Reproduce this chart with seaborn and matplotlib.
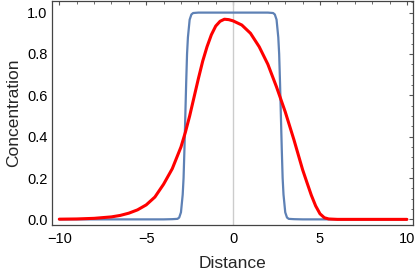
import numpy as np
import pandas as pd
import matplotlib
matplotlib.use("Agg")
import matplotlib.pyplot as plt
from matplotlib.ticker import MultipleLocator
import seaborn as sns

# values
blue_x = [-10, -4, -3.5, -3.2, -3.1, -3.0, -2.9, -2.85, -2.8, -2.75, -2.7, -2.65,
          -2.6, -2.5, -2.4, -2.3, -2.0,
          2.0, 2.3, 2.4, 2.5, 2.6, 2.65, 2.7, 2.75, 2.8, 2.85, 2.9, 3.0, 3.1,
          3.2, 3.5, 4, 10]
blue_y = [0.0, 0.0, 0.001, 0.0025, 0.009, 0.034, 0.12, 0.2, 0.34, 0.5, 0.66, 0.8,
          0.88, 0.966, 0.991, 0.998, 1.0,
          1.0, 0.998, 0.991, 0.966, 0.88, 0.8, 0.66, 0.5, 0.34, 0.2, 0.12, 0.034, 0.009,
          0.0025, 0.001, 0.0, 0.0]

red_x = [-10, -9, -8, -7, -6.5, -6, -5.5, -5, -4.5, -4, -3.5, -3, -2.75, -2.5,
         -2.25, -2, -1.75, -1.5, -1.25, -1.0, -0.75, -0.5, -0.25, 0, 0.5, 1.0,
         1.5, 2.0, 2.5, 3.0, 3.5, 4.0, 4.25, 4.5, 4.75, 5.0, 5.25, 5.5, 6, 10]
red_y = [0.001, 0.002, 0.005, 0.012, 0.019, 0.03, 0.046, 0.07, 0.108, 0.17, 0.245,
         0.35, 0.42, 0.5, 0.59, 0.68, 0.765, 0.835, 0.893, 0.935, 0.958, 0.968,
         0.966, 0.96, 0.94, 0.9, 0.835, 0.75, 0.64, 0.52, 0.385, 0.24, 0.178,
         0.117, 0.065, 0.027, 0.008, 0.002, 0.0, 0.0]

blue_df = pd.DataFrame({"Distance": blue_x, "Concentration": blue_y})
red_df = pd.DataFrame({"Distance": red_x, "Concentration": red_y})

sns.set_theme(style="white")
plt.rcParams["font.family"] = ["Liberation Sans", "DejaVu Sans"]

fig = plt.figure(figsize=(4.18, 2.74), dpi=100)
ax = fig.add_axes([0.124, 0.179, 0.864, 0.818])

ax.axvline(0, color="#cccccc", lw=1.0, zorder=1)

sns.lineplot(data=blue_df, x="Distance", y="Concentration", ax=ax,
             color="#5E81B5", lw=1.6, sort=False, zorder=2)
sns.lineplot(data=red_df, x="Distance", y="Concentration", ax=ax,
             color="#FF0000", lw=2.2, sort=False, zorder=3)

ax.set_xlim(-10.43, 10.35)
ax.set_ylim(-0.027, 1.057)

ax.xaxis.set_major_locator(MultipleLocator(5))
ax.xaxis.set_minor_locator(MultipleLocator(1))
ax.yaxis.set_major_locator(MultipleLocator(0.2))
ax.yaxis.set_minor_locator(MultipleLocator(0.05))
ax.yaxis.set_major_formatter(matplotlib.ticker.FormatStrFormatter("%.1f"))

ax.tick_params(which="both", direction="in", top=True, right=True,
               color="#555555", labelsize=10.5, labelcolor="black", pad=3)
ax.tick_params(axis="x", which="major", pad=5)
ax.tick_params(which="major", length=3, width=0.8)
ax.tick_params(which="minor", length=1.8, width=0.6)

for s in ax.spines.values():
    s.set_color("#444444")
    s.set_linewidth(0.9)

ax.set_xlabel("Distance", fontsize=12.5, labelpad=7)
ax.set_ylabel("Concentration", fontsize=12.5, labelpad=4)

fig.savefig("out.png", dpi=100)
